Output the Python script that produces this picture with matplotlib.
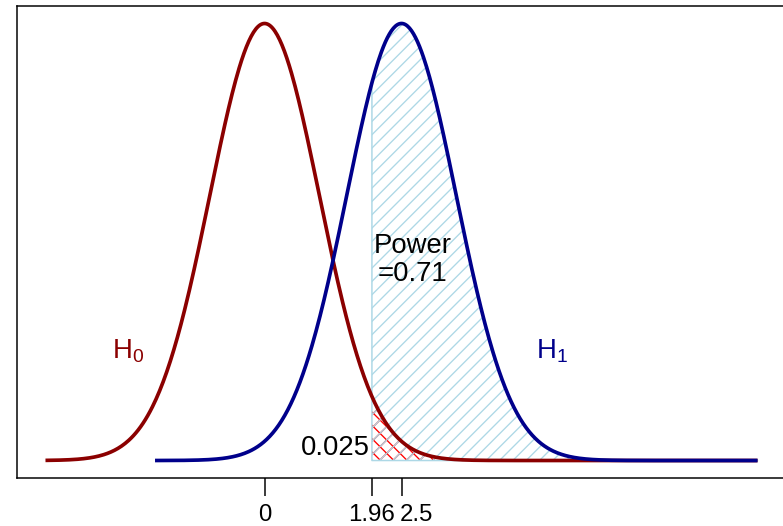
import numpy as np
import matplotlib
matplotlib.use("Agg")
import matplotlib.pyplot as plt
from matplotlib.transforms import ScaledTranslation

plt.rcParams['font.family'] = ['Liberation Sans', 'DejaVu Sans']
plt.rcParams['mathtext.fontset'] = 'custom'
plt.rcParams['mathtext.rm'] = 'Liberation Sans'
plt.rcParams['mathtext.it'] = 'Liberation Sans:italic'
plt.rcParams['hatch.linewidth'] = 0.8

# null and alternative means (sd = 1), critical value, test size, power
mu0 = 0.0
mu1 = 2.5
crit = 1.96
alpha = 0.025
power = 0.71
x_range0 = (-4.0, 9.0)
x_range1 = (-2.0, 9.0)
tick_pos = [0, 1.96, 2.5]
tick_lab = ["0", "1.96", "2.5"]


def dnorm(x, mu):
    return np.exp(-0.5 * (x - mu) ** 2) / np.sqrt(2 * np.pi)


x0 = np.linspace(x_range0[0], x_range0[1], 600)
x1 = np.linspace(x_range1[0], x_range1[1], 600)
xr = np.linspace(crit, x_range1[1], 400)

dpi = 120
fig = plt.figure(figsize=(783 / dpi, 526 / dpi), dpi=dpi)
ax = fig.add_axes([17 / 783, 48 / 526, 769 / 783, 472 / 526])

# rejection region under H0 (cross hatched, red)
ax.fill_between(xr, 0, dnorm(xr, mu0), facecolor='none', edgecolor='red',
                hatch='xxx', linewidth=0)
# power region under H1 (hatched, light blue)
ax.fill_between(xr, 0, dnorm(xr, mu1), facecolor='none', edgecolor='lightblue',
                hatch='///', linewidth=0.9)

ax.plot(x0, dnorm(x0, mu0), color='darkred', lw=2.2, solid_capstyle='butt')
ax.plot(x1, dnorm(x1, mu1), color='darkblue', lw=2.2, solid_capstyle='butt')

ax.text(-2.5, 0.1, r'$\mathrm{H}_0$', color='darkred', fontsize=16.5,
        ha='center', va='center')
ax.text(5.25, 0.1, r'$\mathrm{H}_1$', color='darkblue', fontsize=16.5,
        ha='center', va='center')
ax.text(2.7, 0.183, "Power\n=%.2f" % power, fontsize=16.5, ha='center',
        va='center', linespacing=1.08)
ax.text(1.93, 0.011, str(alpha), fontsize=16.5, ha='right', va='center')

top = dnorm(mu0, mu0)
ax.set_xlim(-4.52, 9.52)
ax.set_ylim(-0.04 * top, top * 1.04)
ax.set_yticks([])
ax.set_xticks(tick_pos)
ax.set_xticklabels(tick_lab, fontsize=14.4)
ax.tick_params(axis='x', length=10.8, width=0.9, pad=5)

# the last label sits just right of its tick
lab = ax.get_xticklabels()[-1]
lab.set_horizontalalignment('left')
lab.set_transform(lab.get_transform() + ScaledTranslation(-2 / dpi, 0, fig.dpi_scale_trans))

for s in ax.spines.values():
    s.set_linewidth(0.9)
ax.spines['right'].set_visible(False)

fig.savefig("out.png", dpi=dpi)
